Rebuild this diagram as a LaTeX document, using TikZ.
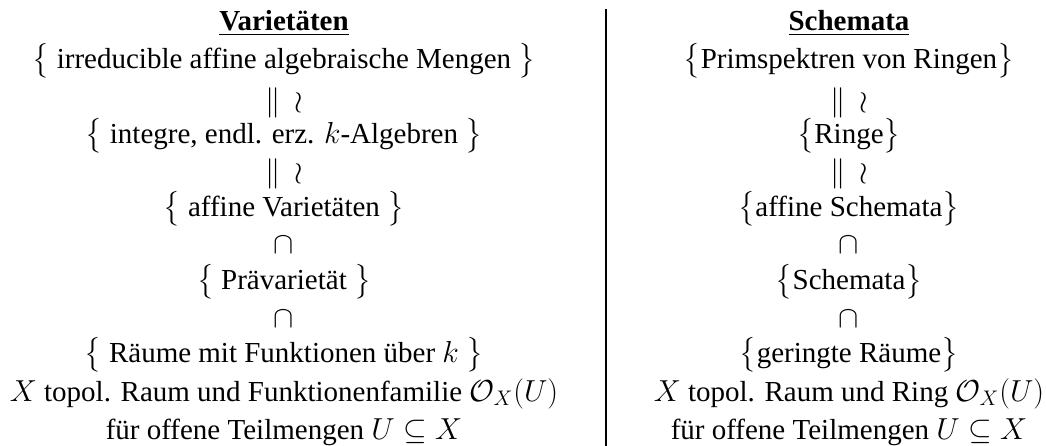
\documentclass[tikz,border=0pt]{standalone}
\usepackage{amsmath}
\usepackage{amssymb}
\usepackage{fontspec}
\setmainfont{Liberation Serif}
\usepackage{tikz}
\usetikzlibrary{positioning}

\begin{document}
\begin{tikzpicture}[
  font=\fontsize{16.5}{20}\selectfont,
  row/.style={anchor=base, inner sep=0pt},
  rel/.style={inner sep=0pt},
  head/.style={anchor=base, inner sep=0pt, font=\fontsize{16.5}{20}\selectfont\bfseries}
]
\useasboundingbox (0,0) rectangle (20.92,-8.92);

% left column: Varietaeten
\node[head] (vhead) at (5.68,-0.60) {\underline{Varietäten}};
\node[row]  (v1) at (5.68,-1.36) {$\big\{$ irreducible affine algebraische Mengen $\big\}$};
\node[rel]  (v12) at (5.68,-2.06) {$\parallel\,\wr$};
\node[row]  (v2) at (5.68,-2.86) {$\big\{$ integre, endl. erz. $k$-Algebren $\big\}$};
\node[rel]  (v23) at (5.68,-3.48) {$\parallel\,\wr$};
\node[row]  (v3) at (5.68,-4.32) {$\big\{$ affine Varietäten $\big\}$};
\node[rel]  (v34) at (5.68,-4.90) {$\cap$};
\node[row]  (v4) at (5.68,-5.78) {$\big\{$ Prävarietät $\big\}$};
\node[rel]  (v45) at (5.68,-6.38) {$\cap$};
\node[row]  (v5) at (5.68,-7.24) {$\big\{$ Räume mit Funktionen über $k$ $\big\}$};
\node[row]  (vdef) at (5.68,-8.02) {$X$ topol. Raum und Funktionenfamilie $\mathcal{O}_X(U)$};
\node[row]  (vdefb) at (5.68,-8.78) {für offene Teilmengen $U\subseteq X$};

% right column: Schemata
\node[head] (shead) at (16.98,-0.60) {\underline{Schemata}};
\node[row]  (s1) at (16.98,-1.36) {$\big\{$Primspektren von Ringen$\big\}$};
\node[rel]  (s12) at (16.98,-2.06) {$\parallel\,\wr$};
\node[row]  (s2) at (16.98,-2.86) {$\big\{$Ringe$\big\}$};
\node[rel]  (s23) at (16.98,-3.48) {$\parallel\,\wr$};
\node[row]  (s3) at (16.98,-4.32) {$\big\{$affine Schemata$\big\}$};
\node[rel]  (s34) at (16.98,-4.90) {$\cap$};
\node[row]  (s4) at (16.98,-5.78) {$\big\{$Schemata$\big\}$};
\node[rel]  (s45) at (16.98,-6.38) {$\cap$};
\node[row]  (s5) at (16.98,-7.24) {$\big\{$geringte Räume$\big\}$};
\node[row]  (sdef) at (16.98,-8.02) {$X$ topol. Raum und Ring $\mathcal{O}_X(U)$};
\node[row]  (sdefb) at (16.98,-8.78) {für offene Teilmengen $U\subseteq X$};

% divider
\coordinate (top) at (12.12,-0.18);
\coordinate (bot) at (12.12,-8.92);
\draw[line width=0.6pt] (top) -- (bot);
\end{tikzpicture}
\end{document}
